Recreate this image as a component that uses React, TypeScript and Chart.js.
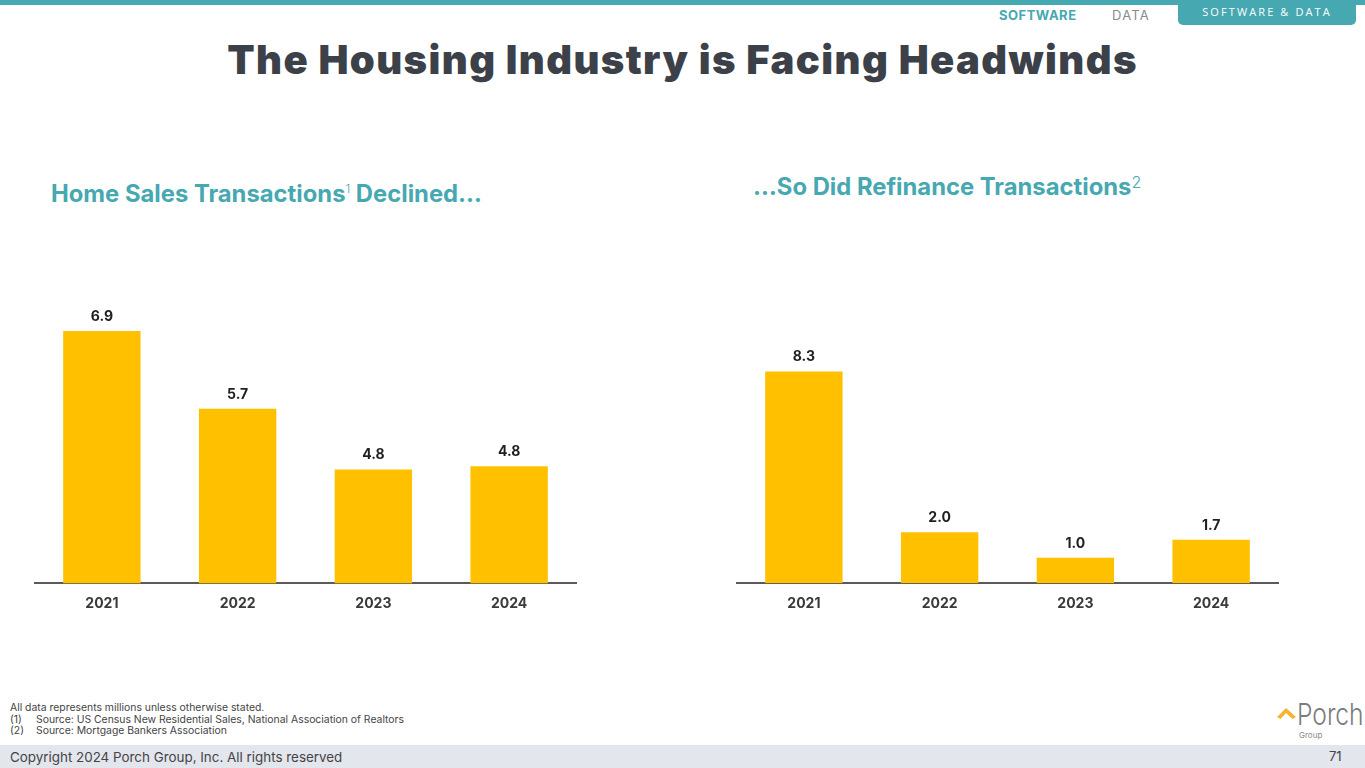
import React, { useEffect, useRef } from "react";
import { Chart, registerables } from "chart.js";

Chart.register(...registerables);

const years = ["2021", "2022", "2023", "2024"];
const homeSales = [6.9, 5.7, 4.76, 4.81];
const homeSalesLabels = ["6.9", "5.7", "4.8", "4.8"];
const refinance = [8.3, 2.0, 1.0, 1.7];
const refinanceLabels = ["8.3", "2.0", "1.0", "1.7"];

const TEAL = "#46A8B0";
const BAR = "#FFC000";
const FONT = "Inter, 'Open Sans', sans-serif";

const valueLabelPlugin = {
  id: "valueLabels",
  afterDatasetsDraw(chart: any) {
    const labels: string[] = chart.options.plugins.valueLabels.labels;
    const ctx = chart.ctx;
    const meta = chart.getDatasetMeta(0);
    ctx.save();
    ctx.font = `700 14px ${FONT}`;
    ctx.fillStyle = "#1f1f1f";
    ctx.textAlign = "center";
    ctx.textBaseline = "alphabetic";
    meta.data.forEach((bar: any, i: number) => {
      ctx.fillText(labels[i], bar.x, bar.y - 10);
    });
    ctx.restore();
  },
};

function BarChart({ values, labels, min, max }: { values: number[]; labels: string[]; min: number; max: number }) {
  const ref = useRef<HTMLCanvasElement>(null);
  useEffect(() => {
    if (!ref.current) return;
    const chart = new Chart(ref.current, {
      type: "bar",
      data: {
        labels: years,
        datasets: [
          {
            data: values,
            backgroundColor: BAR,
            borderWidth: 0,
            barPercentage: 0.57,
            categoryPercentage: 1,
          },
        ],
      },
      options: {
        animation: false,
        responsive: false,
        devicePixelRatio: 1,
        layout: { padding: { top: 60, left: 0, right: 0, bottom: 0 } },
        plugins: {
          legend: { display: false },
          tooltip: { enabled: false },
          valueLabels: { labels },
        } as any,
        scales: {
          x: {
            grid: { display: false },
            border: { display: true, color: "#5a5a5a", width: 2 },
            ticks: {
              color: "#3a3a3a",
              padding: 4,
              font: { family: FONT, size: 14, weight: "bold" as any },
            },
          },
          y: {
            display: false,
            min,
            max,
          },
        },
      },
      plugins: [valueLabelPlugin],
    });
    return () => chart.destroy();
  }, []);
  return <canvas ref={ref} width={543} height={416} />;
}

export default function App() {
  const abs = (s: React.CSSProperties): React.CSSProperties => ({ position: "absolute", ...s });
  return (
    <div
      style={{
        position: "absolute",
        left: 0,
        top: 0,
        width: 1365,
        height: 768,
        overflow: "hidden",
        background: "#ffffff",
        fontFamily: FONT,
      }}
    >
      {/* top teal line */}
      <div style={abs({ left: 0, top: 0, width: 1365, height: 5, background: TEAL })} />
      {/* tab */}
      <div
        style={abs({
          left: 1178,
          top: 0,
          width: 178,
          height: 25,
          background: TEAL,
          borderRadius: "0 0 5px 5px",
          color: "#fff",
          fontSize: 11,
          letterSpacing: 2.1,
          textAlign: "center",
          lineHeight: "24px",
          fontFamily: "'Open Sans', sans-serif",
        })}
      >
        SOFTWARE &amp; DATA
      </div>
      <div style={abs({ left: 999, top: 6, fontSize: 13, fontWeight: 700, color: TEAL, lineHeight: "18px", letterSpacing: 0.5 })}>SOFTWARE</div>
      <div style={abs({ left: 1112, top: 6, fontSize: 13, fontWeight: 400, color: "#8a8a8a", lineHeight: "18px", letterSpacing: 1.2 })}>DATA</div>

      {/* title */}
      <div
        style={abs({
          left: 0,
          top: 36,
          width: 1365,
          textAlign: "center",
          fontSize: 40,
          fontWeight: 900,
          color: "#3C4149",
          lineHeight: "48px",
          letterSpacing: 1.4,
        })}
      >
        The Housing Industry is Facing Headwinds
      </div>

      {/* subtitles */}
      <div style={abs({ left: 51, top: 179, fontSize: 23.8, fontWeight: 700, color: TEAL, lineHeight: "30px", whiteSpace: "nowrap" })}>
        Home Sales Transactions<sup style={{ fontSize: 12, fontWeight: 300, verticalAlign: "top", lineHeight: "20px" }}>1</sup> Declined…
      </div>
      <div style={abs({ left: 753, top: 172, fontSize: 23.8, fontWeight: 700, color: TEAL, lineHeight: "30px", whiteSpace: "nowrap" })}>
        …So Did Refinance Transactions<sup style={{ fontSize: 16, fontWeight: 300, verticalAlign: "top", lineHeight: "20px" }}>2</sup>
      </div>

      {/* charts */}
      <div style={abs({ left: 34, top: 200 })}>
        <BarChart values={homeSales} labels={homeSalesLabels} min={3} max={8} />
      </div>
      <div style={abs({ left: 736, top: 200 })}>
        <BarChart values={refinance} labels={refinanceLabels} min={0} max={12.67} />
      </div>

      {/* footnotes */}
      <div style={abs({ left: 10, top: 702, fontSize: 10.4, color: "#444", lineHeight: "11.6px" })}>
        <div>All data represents millions unless otherwise stated.</div>
        <div>
          <span style={{ display: "inline-block", width: 26 }}>(1)</span>Source: US Census New Residential Sales, National Association of Realtors
        </div>
        <div>
          <span style={{ display: "inline-block", width: 26 }}>(2)</span>Source: Mortgage Bankers Association
        </div>
      </div>

      {/* logo */}
      <svg style={abs({ left: 1276, top: 706 })} width={22} height={14} viewBox="0 0 22 14">
        <polygon points="1,11 10,2 20,11 16.5,13 10,7 4.5,13" fill="#F6B331" />
      </svg>
      <div
        style={abs({
          left: 1297,
          top: 697,
          fontSize: 30,
          color: "#7b7b7b",
          fontWeight: 300,
          lineHeight: "34px",
          transform: "scaleX(0.82)",
          transformOrigin: "left top",
        })}
      >
        Porch
      </div>
      <div style={abs({ left: 1299, top: 730, fontSize: 8, color: "#8a8a8a", lineHeight: "10px" })}>Group</div>

      {/* footer */}
      <div style={abs({ left: 0, top: 745, width: 1365, height: 23, background: "#E3E6ED" })} />
      <div style={abs({ left: 10, top: 748, fontSize: 13.4, color: "#444", lineHeight: "18px" })}>Copyright 2024 Porch Group, Inc. All rights reserved</div>
      <div style={abs({ left: 1329, top: 747, fontSize: 13, color: "#444", lineHeight: "18px" })}>71</div>
    </div>
  );
}
